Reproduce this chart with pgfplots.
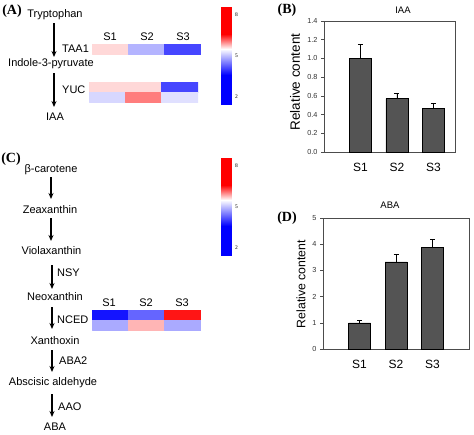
\documentclass[border=0pt]{standalone}
\usepackage{pgfplots}
\pgfplotsset{compat=1.18}
\usepackage{fontspec}
\setmainfont{Liberation Sans}
\newfontfamily\serifb{Liberation Serif}
\usetikzlibrary{arrows.meta}

\pgfplotsset{
  hmcmap/.style={
    colormap={bwr}{rgb255(0cm)=(0,0,255) rgb255(2.1cm)=(0,0,255) rgb255(4cm)=(255,255,255) rgb255(5.1cm)=(255,0,0) rgb255(7.1cm)=(255,0,0)},
    point meta min=1.5, point meta max=8.6,
  },
  hm/.style={
    hmcmap, scale only axis, hide axis, enlargelimits=false,
    xmin=0, xmax=3, ymin=0, anchor=south west,
  },
  cbar/.style={
    hmcmap, scale only axis, enlargelimits=false, anchor=south west,
    width=10pt, height=97pt, xmin=0, xmax=1, ymin=1.5, ymax=8.6,
    axis line style={draw=none}, xtick=\empty, ytick={2,5,8},
    ytick pos=right, yticklabel pos=right, major tick length=0pt,
    yticklabel style={font=\serifb\fontsize{5.5}{6}\selectfont, xshift=0.5pt},
    /pgf/number format/assume math mode=true,
  },
  barax/.style={
    scale only axis, anchor=south west,
    axis line style={draw=black!70, line width=0.7pt},
    ybar, bar width=22pt,
    ymin=0, xmin=0,
    xtick={1,2,3}, xticklabels={S1,S2,S3},
    x tick label style={font=\fontsize{12}{12}\selectfont, yshift=-5pt},
    xtick style={draw=none},
    ytick style={black!70, line width=0.6pt},
    tick align=outside, major tick length=3pt,
    tick pos=left,
    y tick label style={font=\fontsize{7.3}{7.3}\selectfont, text=black!80},
    /pgf/number format/assume math mode=true,
    clip=false,
  },
  barplot/.style={
    fill=black!67, draw=black, line width=0.5pt,
    error bars/.cd, y dir=plus, y explicit,
    error bar style={black, line width=0.6pt},
    error mark options={rotate=90, mark size=2.5pt, black, line width=0.6pt},
  },
}

\begin{document}
\begin{tikzpicture}
\path[use as bounding box] (0,0) rectangle (474pt,-434pt);

% ---------- Panel B ----------
\begin{axis}[barax, at={(324pt,-152pt)}, width=131pt, height=131pt,
  xmax=3.59, ymax=1.4, ytick={0,0.2,...,1.4},
  yticklabel style={/pgf/number format/.cd, fixed, fixed zerofill, precision=1}]
\addplot[barplot] coordinates {(1,1.0) +- (0,0.15) (2,0.57) +- (0,0.06) (3,0.47) +- (0,0.05)};
\end{axis}

% ---------- Panel D ----------
\begin{axis}[barax, at={(323pt,-349pt)}, width=146pt, height=131pt,
  xmax=4, ymax=5, ytick={0,1,...,5}]
\addplot[barplot] coordinates {(1,1.0) +- (0,0.1) (2,3.33) +- (0,0.27) (3,3.88) +- (0,0.31)};
\end{axis}

% ---------- Heatmap A: TAA1 ----------
\begin{axis}[hm, at={(92pt,-54pt)}, width=109pt, height=10pt, ymax=1]
\addplot[patch, patch type=rectangle, shader=flat, point meta=explicit] coordinates {
(0,0) [5.67] (1,0) [5.67] (1,1) [5.67] (0,1) [5.67]
(1,0) [4.94] (2,0) [4.94] (2,1) [4.94] (1,1) [4.94]
(2,0) [4.12] (3,0) [4.12] (3,1) [4.12] (2,1) [4.12]
};
\end{axis}

% ---------- Heatmap A: YUC ----------
\begin{axis}[hm, at={(89pt,-102pt)}, width=109pt, height=20pt, ymax=2]
\addplot[patch, patch type=rectangle, shader=flat, point meta=explicit] coordinates {
(0,1) [5.67] (1,1) [5.67] (1,2) [5.67] (0,2) [5.67]
(1,1) [5.67] (2,1) [5.67] (2,2) [5.67] (1,2) [5.67]
(2,1) [4.12] (3,1) [4.12] (3,2) [4.12] (2,2) [4.12]
(0,0) [5.20] (1,0) [5.20] (1,1) [5.20] (0,1) [5.20]
(1,0) [6.06] (2,0) [6.06] (2,1) [6.06] (1,1) [6.06]
(2,0) [5.27] (3,0) [5.27] (3,1) [5.27] (2,1) [5.27]
};
\end{axis}

% ---------- Heatmap C: NCED ----------
\begin{axis}[hm, at={(92pt,-330pt)}, width=109pt, height=20pt, ymax=2]
\addplot[patch, patch type=rectangle, shader=flat, point meta=explicit] coordinates {
(0,1) [3.75] (1,1) [3.75] (1,2) [3.75] (0,2) [3.75]
(1,1) [4.35] (2,1) [4.35] (2,2) [4.35] (1,2) [4.35]
(2,1) [6.51] (3,1) [6.51] (3,2) [6.51] (2,2) [6.51]
(0,0) [4.87] (1,0) [4.87] (1,1) [4.87] (0,1) [4.87]
(1,0) [5.82] (2,0) [5.82] (2,1) [5.82] (1,1) [5.82]
(2,0) [4.87] (3,0) [4.87] (3,1) [4.87] (2,1) [4.87]
};
\end{axis}

% ---------- Colour bars ----------
\begin{axis}[cbar, at={(221pt,-104pt)}]
\addplot[patch, patch type=rectangle, shader=interp, point meta=explicit] coordinates {
(0,1.5)[1.5] (1,1.5)[1.5] (1,3.6)[3.6] (0,3.6)[3.6]
(0,3.6)[3.6] (1,3.6)[3.6] (1,5.5)[5.5] (0,5.5)[5.5]
(0,5.5)[5.5] (1,5.5)[5.5] (1,6.6)[6.6] (0,6.6)[6.6]
(0,6.6)[6.6] (1,6.6)[6.6] (1,8.6)[8.6] (0,8.6)[8.6]
};
\end{axis}
\begin{axis}[cbar, at={(221pt,-255pt)}]
\addplot[patch, patch type=rectangle, shader=interp, point meta=explicit] coordinates {
(0,1.5)[1.5] (1,1.5)[1.5] (1,3.6)[3.6] (0,3.6)[3.6]
(0,3.6)[3.6] (1,3.6)[3.6] (1,5.5)[5.5] (0,5.5)[5.5]
(0,5.5)[5.5] (1,5.5)[5.5] (1,6.6)[6.6] (0,6.6)[6.6]
(0,6.6)[6.6] (1,6.6)[6.6] (1,8.6)[8.6] (0,8.6)[8.6]
};
\end{axis}

\begin{scope}[x=1pt, y=-1pt, font=\fontsize{11}{13}\selectfont]
% panel letters
\begin{scope}[font=\serifb\bfseries\fontsize{14}{14}\selectfont]
\node at (12,11) {(A)};
\node at (287,10) {(B)};
\node at (11,159) {(C)};
\node at (287,218) {(D)};
\end{scope}

% titles and y labels
\node[font=\fontsize{9.5}{10}\selectfont] at (403,10) {IAA};
\node[font=\fontsize{9.5}{10}\selectfont] at (390,205) {ABA};
\node[rotate=90, font=\fontsize{13.5}{14}\selectfont] at (295,82) {Relative content};
\node[rotate=90, font=\fontsize{12.3}{13}\selectfont] at (301,284) {Relative content};

% heatmap column labels
\node at (110,37) {S1};
\node at (147,37) {S2};
\node at (183,37) {S3};
\node at (109,303) {S1};
\node at (146,303) {S2};
\node at (182,303) {S3};

% Pathway A
\node at (55,15) {Tryptophan};
\draw[line width=1.1pt, -{Stealth[length=6pt,width=5pt]}] (54,23) -- (54,57);
\node[anchor=west, inner sep=0pt] at (62,49) {TAA1};
\node at (51,64) {Indole-3-pyruvate};
\draw[line width=1.1pt, -{Stealth[length=6pt,width=5pt]}] (54,73) -- (54,107);
\node[anchor=west, inner sep=0pt] at (62,90) {YUC};
\node at (55,117) {IAA};

% Pathway C
\node at (51,170) {β-carotene};
\draw[line width=1.1pt, -{Stealth[length=6pt,width=5pt]}] (51,177) -- (51,199);
\node at (50,210) {Zeaxanthin};
\draw[line width=1.1pt, -{Stealth[length=6pt,width=5pt]}] (51,218) -- (51,241);
\node at (51.5,251) {Violaxanthin};
\draw[line width=1.1pt, -{Stealth[length=6pt,width=5pt]}] (52,265) -- (52,289);
\node[anchor=west, inner sep=0pt] at (57,273) {NSY};
\node at (55,297) {Neoxanthin};
\draw[line width=1.1pt, -{Stealth[length=6pt,width=5pt]}] (52,307) -- (52,329);
\node[anchor=west, inner sep=0pt] at (57,320) {NCED};
\node at (55,341) {Xanthoxin};
\draw[line width=1.1pt, -{Stealth[length=6pt,width=5pt]}] (52,350) -- (52,372);
\node[anchor=west, inner sep=0pt] at (59,361) {ABA2};
\node at (53,383) {Abscisic aldehyde};
\draw[line width=1.1pt, -{Stealth[length=6pt,width=5pt]}] (52,394) -- (52,417);
\node[anchor=west, inner sep=0pt] at (58,407) {AAO};
\node at (55,427) {ABA};
\end{scope}
\end{tikzpicture}
\end{document}
